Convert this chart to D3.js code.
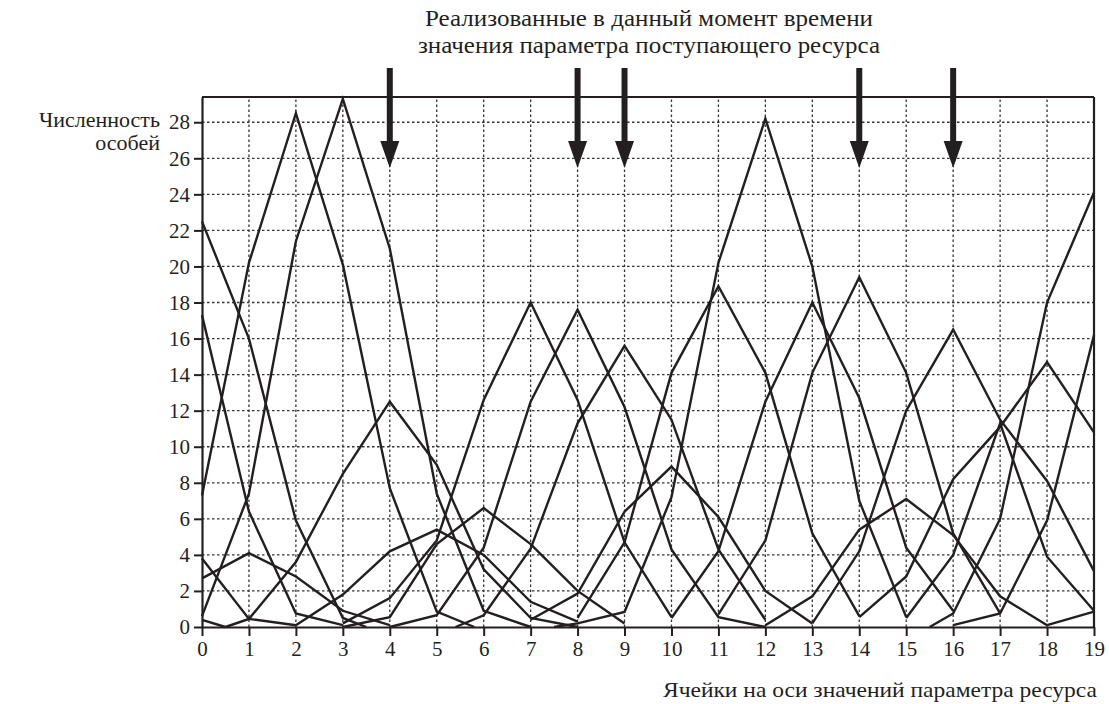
<!DOCTYPE html>
<html>
<head>
<meta charset="utf-8">
<script src="https://cdn.jsdelivr.net/npm/d3@7"></script>
<style>
  body { margin: 0; background: #fff; }
</style>
</head>
<body>
<div id="chart"></div>
<script>

// Tick labels
var yTicks = [0, 2, 4, 6, 8, 10, 12, 14, 16, 18, 20, 22, 24, 26, 28];
var xTicks = [0, 1, 2, 3, 4, 5, 6, 7, 8, 9, 10, 11, 12, 13, 14, 15, 16, 17, 18, 19];

// Cells where the resource parameter is realised (arrows)
var arrowCells = [4, 8, 9, 14, 16];

// Population distributions: [cell, number of individuals]
var sA = [[0, 22.5], [1, 16.0], [2, 5.9], [3, 0.5], [3.5, 0]];
var sB = [[0, 7.3], [1, 20.2], [2, 28.5], [3, 20.1], [4, 7.7], [5, 0.85], [5.8, 0]];
var sC = [[0, 0.6], [1, 7.4], [2, 21.4], [3, 29.3], [4, 21.0], [5, 7.4], [6, 0.9], [7, 0]];
var sD = [[0, 17.3], [1, 6.4], [2, 0.75], [3, 0.1]];
var sE = [[0.5, 0], [1, 0.45], [2, 3.6], [3, 8.5], [4, 12.5], [5, 9.0], [6, 3.2], [7, 0.5], [8, 0]];
var sF = [[0, 2.7], [1, 4.1], [2, 2.8], [3, 0.9], [4, 0.1]];
var sG = [[0, 3.8], [1, 0.45], [2, 0.1]];
var sH = [[0, 0.4], [0.5, 0]];
var sI = [[2, 0.1], [3, 1.8], [4, 4.2], [5, 5.4], [6, 4.0], [7, 1.4], [8, 0.3]];
var sJ = [[3, 0.2], [4, 1.6], [5, 4.8], [6, 12.6], [7, 18.0], [8, 12.6], [9, 4.7], [10, 0.55]];
var sK = [[4, 0], [5, 0.65], [6, 4.4], [7, 12.5], [8, 17.6], [9, 12.2], [10, 4.3], [11, 0.55], [12, 0]];
var sL = [[3, 0], [4, 0.55], [5, 4.6], [6, 6.6], [7, 4.6], [8, 2.0], [9, 0.2]];
var sM = [[5.4, 0], [6, 0.65], [7, 4.35], [8, 11.3], [9, 15.6], [10, 11.5], [11, 4.3], [12, 0.4]];
var sN = [[7, 0.4], [8, 1.85], [9, 6.4], [10, 8.9], [11, 6.1], [12, 2.0], [13, 0.2]];
var sO = [[8, 0.5], [9, 4.7], [10, 14.1], [11, 18.9], [12, 14.1], [13, 5.2], [14, 0.6]];
var sP = [[7.5, 0], [8, 0.2], [9, 0.83], [10, 7.2], [11, 20.2], [12, 28.2], [13, 20.0], [14, 7.0], [15, 0.55]];
var sQ = [[10, 0.5], [11, 4.2], [12, 12.5], [13, 18.0], [14, 12.7], [15, 4.4], [16, 0.9]];
var sR = [[11, 0.7], [12, 4.8], [13, 14.1], [14, 19.4], [15, 14.1], [16, 5.2], [17, 0.75]];
var sS = [[12, 0.1], [13, 1.7], [14, 5.4], [15, 7.1], [16, 5.1], [17, 1.7], [18, 0.1]];
var sT = [[13, 0.2], [14, 4.2], [15, 12.0], [16, 16.5], [17, 11.5], [18, 8.1], [19, 3.1]];
var sU = [[14, 0.55], [15, 2.8], [16, 8.2], [17, 11.1], [18, 14.7], [19, 10.8]];
var sV = [[15.5, 0], [16, 0.75], [17, 6.0], [18, 18.0], [19, 24.1]];
var sW = [[16, 0.1], [17, 0.75], [18, 5.9], [19, 16.2]];
var sX = [[15, 0.5], [16, 4.0], [17, 11.3], [18, 3.9], [19, 0.9]];
var sZ = [[18, 0.1], [19, 0.85]];

var series = [sA, sB, sC, sD, sE, sF, sG, sH, sI, sJ, sK, sL, sM, sN, sO, sP,
              sQ, sR, sS, sT, sU, sV, sW, sX, sZ];

var W = 1109, H = 704;
var ink = "#231f20";
var serif = "'Liberation Serif', 'DejaVu Serif', serif";

var svg = d3.select("#chart")
    .append("svg")
    .attr("width", W)
    .attr("height", H);

// Scales
var x = d3.scaleLinear().domain([0, 19]).range([202, 1094]);
var y = d3.scaleLinear().domain([0, 29.4]).range([627, 97]);

// Grid (dotted)
svg.append("g")
    .selectAll("line")
    .data(xTicks.slice(1, -1))
    .enter()
    .append("line")
    .attr("x1", function(d) { return x(d); })
    .attr("x2", function(d) { return x(d); })
    .attr("y1", y(0))
    .attr("y2", y.range()[1])
    .attr("stroke", "#333")
    .attr("stroke-width", 1.3)
    .attr("stroke-dasharray", "2.5,2.5");

svg.append("g")
    .selectAll("line")
    .data(yTicks.slice(1))
    .enter()
    .append("line")
    .attr("x1", x(0))
    .attr("x2", x(19))
    .attr("y1", function(d) { return y(d); })
    .attr("y2", function(d) { return y(d); })
    .attr("stroke", "#333")
    .attr("stroke-width", 1.3)
    .attr("stroke-dasharray", "2.5,2.5");

// Frame: top and right
svg.append("line")
    .attr("x1", x(0)).attr("x2", x(19))
    .attr("y1", y.range()[1]).attr("y2", y.range()[1])
    .attr("stroke", ink).attr("stroke-width", 2.2);
svg.append("line")
    .attr("x1", x(19)).attr("x2", x(19))
    .attr("y1", y.range()[1]).attr("y2", y(0))
    .attr("stroke", ink).attr("stroke-width", 2.2);

// Axes
var yAxis = svg.append("g")
    .attr("transform", "translate(" + x(0) + ",0)")
    .call(d3.axisLeft(y).tickValues(yTicks).tickSize(8).tickPadding(4).tickSizeOuter(0));

var xAxis = svg.append("g")
    .attr("transform", "translate(0," + y(0) + ")")
    .call(d3.axisBottom(x).tickValues(xTicks).tickSize(9).tickPadding(3).tickSizeOuter(0));

[yAxis, xAxis].forEach(function(g) {
  g.attr("font-family", serif).attr("font-size", 21);
  g.select(".domain").attr("stroke", ink).attr("stroke-width", 2.2);
  g.selectAll(".tick line").attr("stroke", ink).attr("stroke-width", 2);
  g.selectAll(".tick text").attr("fill", ink);
});
xAxis.selectAll(".tick text").attr("dy", "0.8em");

// Distribution lines
var line = d3.line()
    .x(function(d) { return x(d[0]); })
    .y(function(d) { return y(d[1]); });

svg.append("g")
    .selectAll("path")
    .data(series)
    .enter()
    .append("path")
    .attr("d", line)
    .attr("fill", "none")
    .attr("stroke", ink)
    .attr("stroke-width", 2.4)
    .attr("stroke-linejoin", "miter");

// Arrows
var arrows = svg.append("g")
    .selectAll("g")
    .data(arrowCells)
    .enter()
    .append("g")
    .attr("transform", function(d) { return "translate(" + x(d) + ",0)"; });

arrows.append("rect")
    .attr("x", -3)
    .attr("y", 68)
    .attr("width", 6)
    .attr("height", 76)
    .attr("fill", ink);

arrows.append("path")
    .attr("d", "M-9.5,141 L9.5,141 L0,168 Z")
    .attr("fill", ink);

// Texts
var title = svg.append("text")
    .attr("text-anchor", "middle")
    .attr("font-family", serif)
    .attr("font-size", 24)
    .attr("fill", ink);
title.append("tspan").attr("x", 649).attr("y", 26)
    .attr("textLength", 448).attr("lengthAdjust", "spacingAndGlyphs")
    .text("Реализованные в данный момент времени");
title.append("tspan").attr("x", 649).attr("y", 53)
    .attr("textLength", 462).attr("lengthAdjust", "spacingAndGlyphs")
    .text("значения параметра поступающего ресурса");

var ylab = svg.append("text")
    .attr("text-anchor", "end")
    .attr("font-family", serif)
    .attr("font-size", 22)
    .attr("fill", ink);
ylab.append("tspan").attr("x", 160).attr("y", 127).text("Численность");
ylab.append("tspan").attr("x", 160).attr("y", 150).text("особей");

svg.append("text")
    .attr("x", 1097)
    .attr("y", 697)
    .attr("text-anchor", "end")
    .attr("font-family", serif)
    .attr("font-size", 22)
    .attr("fill", ink)
    .attr("textLength", 434)
    .attr("lengthAdjust", "spacingAndGlyphs")
    .text("Ячейки на оси значений параметра ресурса");

</script>
</body>
</html>
